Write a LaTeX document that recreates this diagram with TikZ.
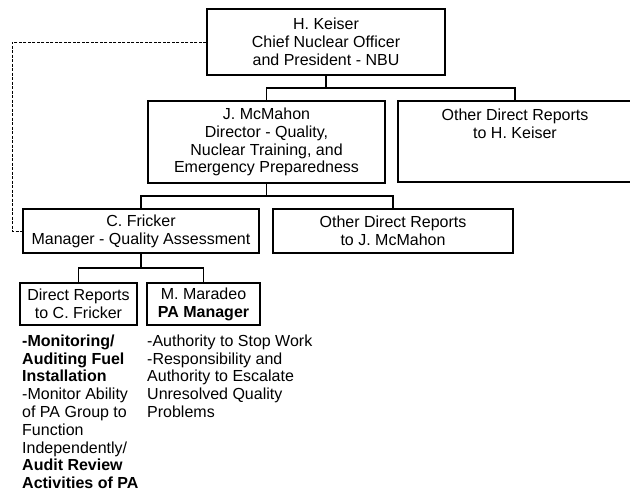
\documentclass[tikz,border=0pt]{standalone}
\usepackage{fontspec}
\setmainfont{Liberation Sans}
\begin{document}
\begin{tikzpicture}[x=1pt,y=-1pt,
  box/.style={draw, line width=1.4pt, inner sep=0pt, align=center, font=\fontsize{16}{17.8}\selectfont},
  conn/.style={line width=1.4pt},
  dline/.style={line width=0.9pt, dash pattern=on 3pt off 1.5pt},
  txt/.style={inner sep=0pt, align=left, anchor=north west, font=\fontsize{16}{17.8}\selectfont}]
\useasboundingbox (0,0) rectangle (630,493);
\fill[white] (0,0) rectangle (630,493);

\node[box, minimum width=238pt, minimum height=66pt] (keiser) at (326,42)
  {H. Keiser\\Chief Nuclear Officer\\and President - NBU};
\node[box, minimum width=237pt, minimum height=82pt] (mcmahon) at (266.5,142)
  {J. McMahon\\Director - Quality,\\Nuclear Training, and\\Emergency Preparedness};
\node[box, minimum width=234pt, minimum height=81pt] (otherkeiser) at (515,141.5)
  {Other Direct Reports\\to H. Keiser\\~\\~};
\node[box, minimum width=236pt, minimum height=44pt] (fricker) at (141,231)
  {C. Fricker\\Manager - Quality Assessment};
\node[box, minimum width=240pt, minimum height=44pt] (othermcmahon) at (393,231)
  {Other Direct Reports\\to J. McMahon};
\node[box, minimum width=117pt, minimum height=42pt] (direct) at (78.5,304)
  {Direct Reports\\to C. Fricker};
\node[box, minimum width=113pt, minimum height=42pt] (maradeo) at (203.5,304)
  {M. Maradeo\\\textbf{PA Manager}};

\coordinate (b1) at (0,88);
\coordinate (b2) at (0,196);
\coordinate (b3) at (0,268);
\coordinate (dl) at (12,0);

\draw[conn] (keiser.south) -- (keiser.south |- b1);
\draw[conn] (mcmahon.north) -- (mcmahon.north |- b1) -- (otherkeiser.north |- b1) -- (otherkeiser.north);
\draw[conn] (mcmahon.south) -- (mcmahon.south |- b2);
\draw[conn] (fricker.north) -- (fricker.north |- b2) -- (othermcmahon.north |- b2) -- (othermcmahon.north);
\draw[conn] (fricker.south) -- (fricker.south |- b3);
\draw[conn] (direct.north) -- (direct.north |- b3) -- (maradeo.north |- b3) -- (maradeo.north);

\draw[dline] (keiser.west) -| (dl |- fricker.west) -- (fricker.west);

\node[txt] (ltext) at (22,334.5)
  {\textbf{-Monitoring/}\\\textbf{Auditing Fuel}\\\textbf{Installation}\\-Monitor Ability\\of PA Group to\\Function\\Independently/\\\textbf{Audit Review}\\\textbf{Activities of PA}};
\node[txt] (rtext) at (147,334.5)
  {-Authority to Stop Work\\-Responsibility and\\Authority to Escalate\\Unresolved Quality\\Problems};
\end{tikzpicture}
\end{document}
